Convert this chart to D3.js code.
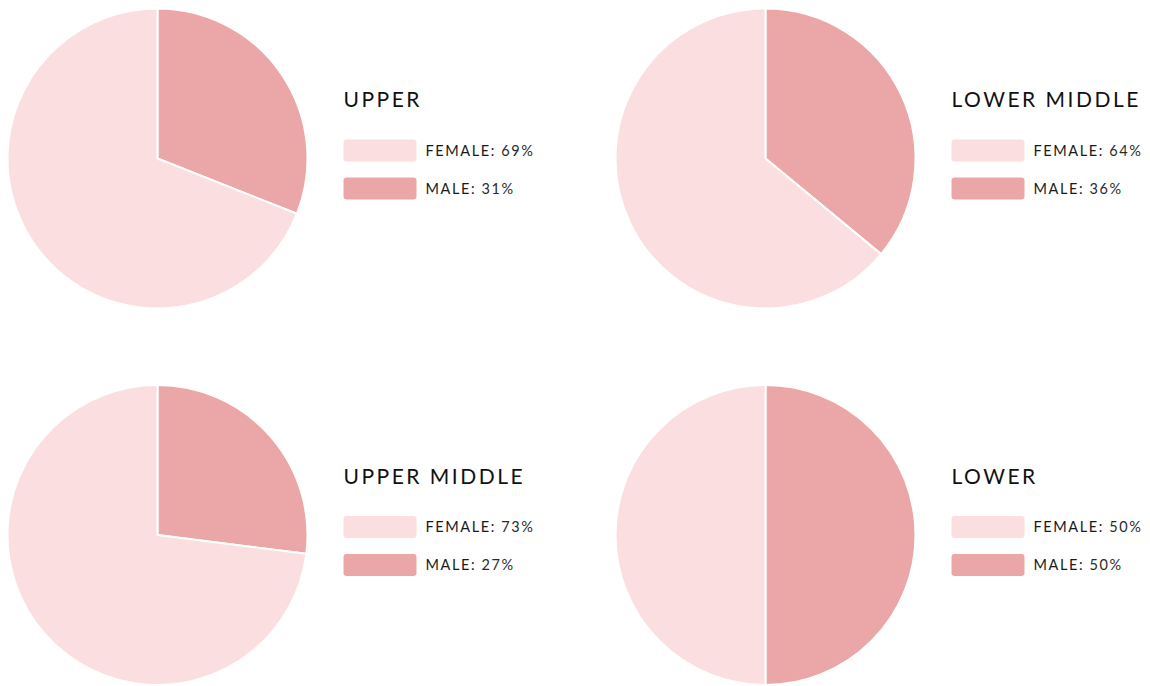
<!DOCTYPE html>
<html>
<head>
<meta charset="utf-8">
<script src="https://cdn.jsdelivr.net/npm/d3@7"></script>
<style>
  body { margin: 0; background: #fff; }
  svg { display: block; }
  .title { font-family: Lato, "Open Sans", sans-serif; font-size: 21px; letter-spacing: 2.5px; fill: #111; }
  .label { font-family: Lato, "Open Sans", sans-serif; font-size: 14.5px; letter-spacing: 1.6px; fill: #1a1a1a; }
  .label .key { font-weight: 400; }
  .label .val { font-weight: 400; fill: #2a2a2a; }
</style>
</head>
<body>
<svg id="chart" width="1150" height="686"></svg>
<script>
// classes and their shares (male first so it starts at 12 o'clock)
const classes = ["UPPER", "LOWER MIDDLE", "UPPER MIDDLE", "LOWER"];
const maleShare = [31, 36, 27, 50];
const femaleShare = [69, 64, 73, 50];

const colors = { FEMALE: "#fbdedf", MALE: "#eba6a8" };
const legendOrder = ["FEMALE", "MALE"];

const svg = d3.select("#chart");
const radius = 150;

const col = d3.scalePoint().domain([0, 1]).range([157.5, 765.5]);
const row = d3.scalePoint().domain([0, 1]).range([158.5, 535]);

const pie = d3.pie().sort(null).value(d => d.value);
const arc = d3.arc().innerRadius(0).outerRadius(radius);

classes.forEach((name, i) => {
    const cx = col(i % 2), cy = row(Math.floor(i / 2));
    const data = [
        { key: "MALE", value: maleShare[i] },
        { key: "FEMALE", value: femaleShare[i] }
    ];
    const g = svg.append("g").attr("transform", `translate(${cx},${cy})`);

    g.selectAll("path")
        .data(pie(data))
        .join("path")
        .attr("d", arc)
        .attr("fill", d => colors[d.data.key])
        .attr("stroke", "#fff")
        .attr("stroke-width", 2)
        .attr("stroke-linejoin", "round");

    // legend block to the right of the pie
    const lg = svg.append("g").attr("transform", `translate(${cx + 186},${cy})`);
    lg.append("text")
        .attr("class", "title")
        .attr("x", 0)
        .attr("y", -51.5)
        .text(name);

    const byKey = { FEMALE: femaleShare[i], MALE: maleShare[i] };
    legendOrder.forEach((k, j) => {
        const y = -19 + j * 38;
        lg.append("rect")
            .attr("x", 0).attr("y", y)
            .attr("width", 73).attr("height", 22)
            .attr("rx", 3)
            .attr("fill", colors[k]);
        const t = lg.append("text")
            .attr("class", "label")
            .attr("x", 82)
            .attr("y", y + 16);
        t.append("tspan").attr("class", "key").text(k + ": ");
        t.append("tspan").attr("class", "val").text(byKey[k] + "%");
    });
});
</script>
</body>
</html>
